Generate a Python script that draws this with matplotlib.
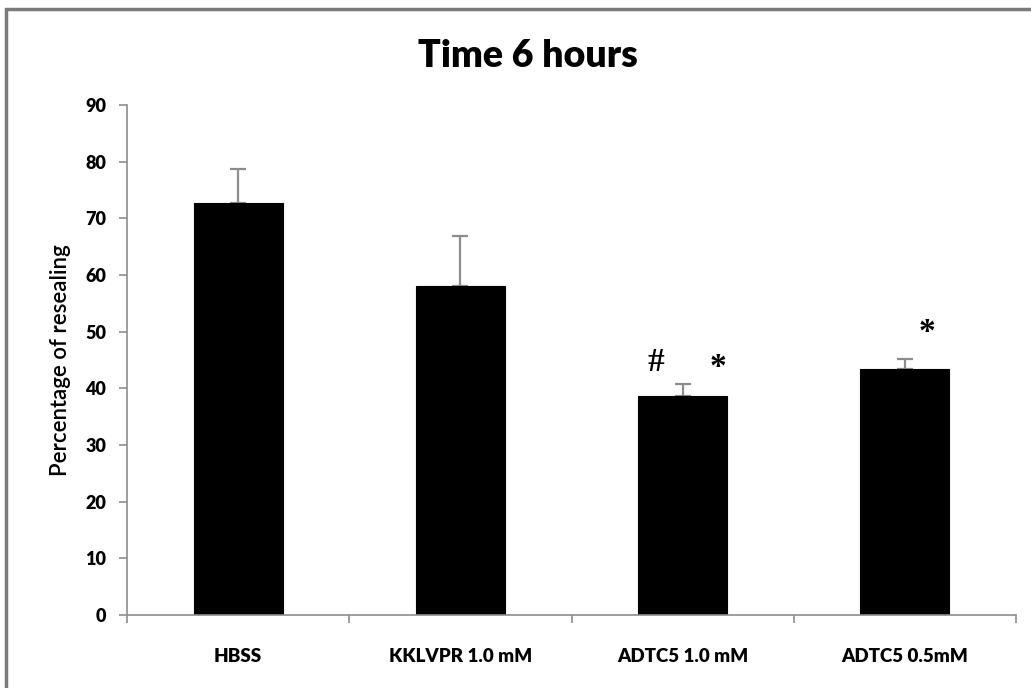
import matplotlib
matplotlib.use("Agg")
import matplotlib.pyplot as plt
import matplotlib.patches as mpatches
import numpy as np

categories = ["HBSS", "KKLVPR 1.0 mM", "ADTC5 1.0 mM", "ADTC5 0.5mM"]
values = [72.7, 58.0, 38.6, 43.4]
errors = [6.0, 8.9, 2.1, 1.8]
yticks = [0, 10, 20, 30, 40, 50, 60, 70, 80, 90]
annotations = [("#", 2, -0.12, 44.5), ("*", 2, 0.16, 43.6), ("*", 3, 0.10, 49.8)]

plt.rcParams['font.family'] = ['Lato', 'DejaVu Sans']

fig = plt.figure(figsize=(10.31, 6.88), dpi=100)
ax = fig.add_axes([0.1232, 0.1061, 0.8623, 0.7413])

x = np.arange(len(categories))
gray = "#8c8c8c"
ax.bar(x, values, width=0.4, color="black", edgecolor="black", linewidth=0.8, zorder=2)
ax.errorbar(x, values, yerr=[np.zeros(len(errors)), errors], fmt="none",
            ecolor=gray, elinewidth=1.6, capsize=6, capthick=1.6, zorder=1)

ax.set_xlim(-0.5, len(categories) - 0.5)
ax.set_ylim(0, 90)
ax.set_yticks(yticks)
ax.set_yticklabels([str(t) for t in yticks], fontsize=13, fontweight="heavy")
ax.set_xticks(x)
ax.set_xticklabels(categories, fontsize=13.5, fontweight="heavy")
ax.set_xticks(np.arange(len(categories) + 1) - 0.5, minor=True)
ax.tick_params(axis="x", which="major", length=0, pad=24)
ax.tick_params(axis="x", which="minor", length=6, color=gray, width=1.2)
ax.tick_params(axis="y", length=6, color=gray, width=1.2, pad=9)

for s in ["top", "right"]:
    ax.spines[s].set_visible(False)
for s in ["left", "bottom"]:
    ax.spines[s].set_color(gray)
    ax.spines[s].set_linewidth(1.2)

ax.set_ylabel("Percentage of resealing", fontsize=16, fontweight="semibold", labelpad=10)
fig.text(0.512, 0.918, "Time 6 hours", ha="center", va="center", fontsize=27, fontweight="heavy")

for sym, i, dx, yv in annotations:
    ax.text(i + dx, yv, sym, ha="center", va="center", fontsize=24, fontweight="bold",
            family=["Liberation Serif", "DejaVu Serif"])

border = mpatches.Rectangle((0.006, -0.02), 1.1, 1.007, transform=fig.transFigure,
                            fill=False, edgecolor="#7a7a7a", linewidth=2.5, clip_on=False)
fig.patches.append(border)

fig.savefig("out.png", dpi=100)
